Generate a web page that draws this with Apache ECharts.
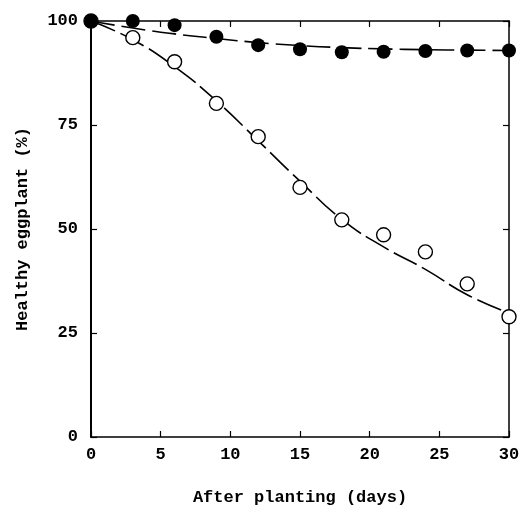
<!DOCTYPE html>
<html>
<head>
<meta charset="utf-8">
<script src="https://cdn.jsdelivr.net/npm/echarts@6/dist/echarts.min.js"></script>
<style>
  html, body { margin: 0; padding: 0; background: #fff; }
  #chart { width: 522px; height: 506px; }
</style>
</head>
<body>
<div id="chart"></div>
<script>
// observed points
const days = [0, 3, 6, 9, 12, 15, 18, 21, 24, 27, 30];
const filledPts = [100, 100, 99.0, 96.2, 94.2, 93.2, 92.5, 92.6, 92.8, 92.9, 92.9];
const openPts = [100, 96.0, 90.2, 80.2, 72.2, 60.0, 52.2, 48.6, 44.5, 36.8, 28.9];
// fitted curves
const filledFit = [100, 98.3, 96.9, 95.8, 94.8, 94.1, 93.6, 93.3, 93.1, 93.0, 92.9];
const openFit = [100, 95.5, 89.0, 80.8, 71.2, 61.5, 52.3, 45.7, 40.3, 34.2, 29.8];

const font = 'Liberation Mono';
const pairs = (ys) => days.map((d, i) => [d, ys[i]]);

const chart = echarts.init(document.getElementById('chart'));

const axisLine = { show: true, onZero: false, lineStyle: { color: '#000', width: 1.5 } };
const axisTick = { show: true, inside: true, length: 6, lineStyle: { color: '#000', width: 1.2 } };
const labelStyle = { fontFamily: font, fontWeight: 'bold', fontSize: 17, color: '#000' };

chart.setOption({
    animation: false,
    grid: { left: 91, right: 13, top: 21, bottom: 69, outerBoundsMode: 'none', containLabel: false },
    xAxis: [{
        type: 'value', min: 0, max: 30, interval: 5,
        name: 'After planting (days)', nameLocation: 'middle', nameGap: 52,
        nameTextStyle: labelStyle,
        axisLine: axisLine, axisTick: axisTick,
        axisLabel: Object.assign({ margin: 9 }, labelStyle),
        splitLine: { show: false }
    }, {
        type: 'value', min: 0, max: 30, interval: 5, position: 'top',
        axisLine: axisLine, axisTick: axisTick,
        axisLabel: { show: false }, splitLine: { show: false }
    }],
    yAxis: [{
        type: 'value', min: 0, max: 100, interval: 25,
        name: 'Healthy eggplant (%)', nameLocation: 'middle', nameGap: 60,
        nameTextStyle: labelStyle,
        axisLine: { show: true, onZero: false, lineStyle: { color: '#000', width: 2 } }, axisTick: axisTick,
        axisLabel: Object.assign({ margin: 13 }, labelStyle),
        splitLine: { show: false }
    }, {
        type: 'value', min: 0, max: 100, interval: 25, position: 'right',
        axisLine: axisLine, axisTick: axisTick,
        axisLabel: { show: false }, splitLine: { show: false }
    }],
    series: [{
        name: 'filled fit', type: 'line', smooth: true, showSymbol: false,
        data: pairs(filledFit),
        lineStyle: { color: '#000', width: 1.6, type: [24, 7] }, z: 2
    }, {
        name: 'open fit', type: 'line', smooth: true, showSymbol: false,
        data: pairs(openFit),
        lineStyle: { color: '#000', width: 1.6, type: [26, 6] }, z: 2
    }, {
        name: 'open', type: 'scatter', symbol: 'circle', symbolSize: 14,
        data: pairs(openPts),
        itemStyle: { color: '#fff', borderColor: '#000', borderWidth: 1.4, opacity: 1 }, z: 5
    }, {
        name: 'filled', type: 'scatter', symbol: 'circle', symbolSize: 14,
        data: pairs(filledPts),
        itemStyle: { color: '#000', opacity: 1 }, z: 6
    }]
});
</script>
</body>
</html>
